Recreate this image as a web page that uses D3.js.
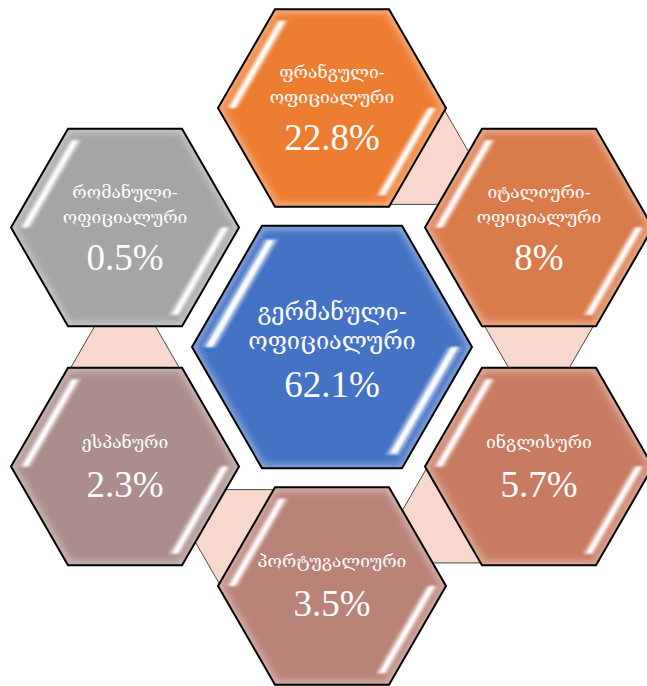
<!DOCTYPE html>
<html>
<head>
<meta charset="utf-8">
<script src="https://cdn.jsdelivr.net/npm/d3@7"></script>
<style>
  html, body { margin: 0; padding: 0; background: #fff; }
  svg { display: block; }
</style>
</head>
<body>
<svg id="viz_area" width="647" height="686"></svg>
<script>
// languages, centre first, then clockwise from the top
const labelLines = [
    ["გერმანული-", "ოფიციალური"],
    ["ფრანგული-", "ოფიციალური"],
    ["იტალიური-", "ოფიციალური"],
    ["ინგლისური"],
    ["პორტუგალიური"],
    ["ესპანური"],
    ["რომანული-", "ოფიციალური"]
]
const shares = [62.1, 22.8, 8, 5.7, 3.5, 2.3, 0.5]

const palette = ["#4472c4", "#ed7d31", "#da7b4c", "#c87b63", "#b98378", "#ab8e8b", "#a5a5a5"]

const center = { x: 332, y: 347 }
const ringRadius = 239
const bigR = 140
const smallR = 114
const triSide = 127

const svg = d3.select('#viz_area')
const defs = svg.append('defs')

defs.append('filter').attr('id', 'soft')
    .attr('x', '-20%').attr('y', '-20%').attr('width', '140%').attr('height', '140%')
    .append('feGaussianBlur').attr('stdDeviation', 3.5)

defs.append('filter').attr('id', 'softer')
    .attr('x', '-50%').attr('y', '-50%').attr('width', '200%').attr('height', '200%')
    .append('feGaussianBlur').attr('stdDeviation', 1.1)

// angle of each outer hexagon around the centre
const angle = d3.scaleLinear()
    .domain([0, 6])
    .range([-Math.PI / 2, 1.5 * Math.PI])

const closedLine = d3.line().curve(d3.curveLinearClosed)

function hexPoints(r) {
    return d3.range(6).map(function (k) {
        const a = k * Math.PI / 3
        return [r * Math.cos(a), r * Math.sin(a)]
    })
}

const nodes = shares.map(function (v, i) {
    if (i === 0) return { x: center.x, y: center.y, r: bigR, i: i }
    const a = angle(i - 1)
    return {
        x: center.x + ringRadius * Math.cos(a),
        y: center.y + ringRadius * Math.sin(a),
        r: smallR,
        i: i
    }
})

// connector triangles between consecutive outer hexagons
const triG = svg.append('g').attr('class', 'connectors')
for (let k = 1; k < 6; k++) {
    const a = nodes[k], b = nodes[k + 1]
    const mx = (a.x + b.x) / 2, my = (a.y + b.y) / 2
    const phi = Math.atan2(my - center.y, mx - center.x)
    const cr = triSide / Math.sqrt(3)
    const pts = d3.range(3).map(function (j) {
        const t = phi - Math.PI / 6 + j * 2 * Math.PI / 3
        return [mx + cr * Math.cos(t), my + cr * Math.sin(t)]
    })
    triG.append('path')
        .attr('d', closedLine(pts))
        .attr('fill', '#f8d7cc')
        .attr('stroke', '#4a4a4a')
        .attr('stroke-width', 1)
}

const hexG = svg.selectAll('g.hex')
    .data(nodes)
    .enter()
    .append('g')
    .attr('class', 'hex')
    .attr('transform', function (d) { return 'translate(' + d.x + ',' + d.y + ')' })

hexG.each(function (d) {
    const g = d3.select(this)
    const pts = hexPoints(d.r)
    const h = d.r * Math.sqrt(3) / 2

    defs.append('clipPath').attr('id', 'clip' + d.i)
        .append('path').attr('d', closedLine(pts))

    g.append('path')
        .attr('d', closedLine(pts))
        .attr('fill', palette[d.i])

    // soft light rim inside the edge
    g.append('path')
        .attr('d', closedLine(pts))
        .attr('fill', 'none')
        .attr('stroke', '#ffffff')
        .attr('stroke-opacity', 0.4)
        .attr('stroke-width', 8)
        .attr('filter', 'url(#soft)')
        .attr('clip-path', 'url(#clip' + d.i + ')')

    // glossy strips along upper-left and lower-right edges
    const s = d.r / smallR
    function strip(d1, d2, f) {
        const ex = d.r / 2 * f, ey = h * f
        return closedLine([
            [-d.r + d1 * s, 0],
            [-d.r + d2 * s, 0],
            [-d.r + d2 * s + ex, -ey],
            [-d.r + d1 * s + ex, -ey]
        ])
    }
    ;[0, 180].forEach(function (rot) {
        const sg = g.append('g').attr('transform', 'rotate(' + rot + ')')
        sg.append('path')
            .attr('d', strip(8, 20, 0.89))
            .attr('fill', '#ffffff')
            .attr('opacity', 0.35)
            .attr('filter', 'url(#softer)')
        sg.append('path')
            .attr('d', strip(11, 17, 0.88))
            .attr('fill', '#ffffff')
            .attr('opacity', 0.95)
            .attr('filter', 'url(#softer)')
    })

    g.append('path')
        .attr('d', closedLine(pts))
        .attr('fill', 'none')
        .attr('stroke', '#000')
        .attr('stroke-width', 2)
        .attr('stroke-linejoin', 'miter')

    // labels
    const lines = labelLines[d.i]
    const isCenter = d.i === 0
    let ys, numY
    if (isCenter) { ys = [-27, 2]; numY = 50 }
    else if (lines.length === 2) { ys = [-30, -5]; numY = 42 }
    else { ys = [-19]; numY = 30 }

    lines.forEach(function (t, j) {
        g.append('text')
            .attr('x', 0)
            .attr('y', ys[j])
            .attr('text-anchor', 'middle')
            .attr('fill', '#fff')
            .attr('font-family', '"DejaVu Serif", "DejaVu Sans", serif')
            .attr('font-size', isCenter ? 23.5 : 17.5)
            .text(t)
    })

    g.append('text')
        .attr('x', 0)
        .attr('y', numY)
        .attr('text-anchor', 'middle')
        .attr('fill', '#fff')
        .attr('font-family', '"Liberation Serif", "Times New Roman", serif')
        .attr('font-size', 37)
        .text(shares[d.i] + '%')
})
</script>
</body>
</html>
